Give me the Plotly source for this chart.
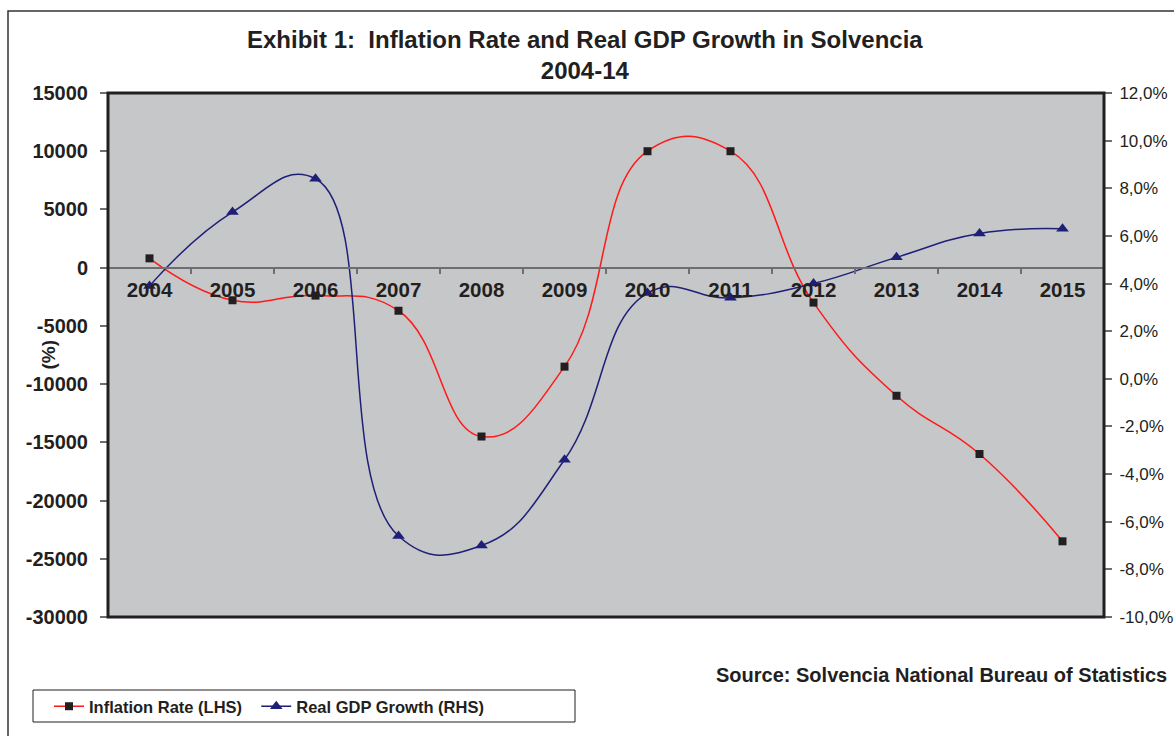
import plotly.graph_objects as go

years = ["2004", "2005", "2006", "2007", "2008", "2009", "2010", "2011", "2012", "2013", "2014", "2015"]
inflation = [800, -2800, -2400, -3700, -14500, -8500, 10000, 10000, -3000, -11000, -16000, -23500]
gdp_growth = [3.9, 7.0, 8.4, -6.6, -7.0, -3.4, 3.6, 3.4, 4.0, 5.1, 6.1, 6.3]

left_ticks = [15000, 10000, 5000, 0, -5000, -10000, -15000, -20000, -25000, -30000]
right_ticks = [12, 10, 8, 6, 4, 2, 0, -2, -4, -6, -8, -10]
right_labels = [f"{v:.1f}".replace(".", ",") + "%" for v in right_ticks]

FONT = "Liberation Sans, Arial, sans-serif"
INK = "#231f20"
L_MIN, L_MAX = -30000, 15000

# pixel geometry of the plotting area (used to place paper-referenced items)
PX_L, PX_R, PX_T, PX_B = 108, 1104, 93, 617


def px(xp):
    return (xp - PX_L) / (PX_R - PX_L)


def py(yp):
    return (PX_B - yp) / (PX_B - PX_T)


NBSP = "\u00a0"

fig = go.Figure()
fig.add_trace(go.Scatter(
    x=years, y=inflation, name="Inflation Rate (LHS)" + NBSP * 2,
    mode="lines+markers", line=dict(color="#ff1a1a", width=1.5, shape="spline", smoothing=1.3),
    marker=dict(symbol="square", size=8, color=INK),
    yaxis="y",
))
fig.add_trace(go.Scatter(
    x=years, y=gdp_growth, name="Real GDP Growth (RHS)",
    mode="lines+markers", line=dict(color="#1f1f78", width=1.5, shape="spline", smoothing=1.3),
    marker=dict(symbol="triangle-up", size=11, color="#1f1f78"),
    yaxis="y2",
))

zero_pos = (0 - L_MIN) / (L_MAX - L_MIN)

fig.update_layout(
    width=1174, height=736,
    margin=dict(l=PX_L, r=1174 - PX_R, t=PX_T, b=736 - PX_B, autoexpand=False),
    paper_bgcolor="white",
    plot_bgcolor="#c6c7c9",
    font=dict(family=FONT, color=INK),
    xaxis=dict(
        type="category", categoryorder="array", categoryarray=years,
        range=[-0.5, 11.5], automargin=False,
        anchor="free", position=zero_pos,
        showline=True, linecolor="#6d6e71", linewidth=1.5,
        ticks="outside", tickson="boundaries", ticklen=6, tickcolor="#6d6e71", tickwidth=1.5,
        ticklabelstandoff=4,
        tickfont=dict(size=20.5, family=FONT, color=INK, weight="bold"),
        showgrid=False, zeroline=False, fixedrange=True,
    ),
    yaxis=dict(
        range=[L_MIN, L_MAX], tickvals=left_ticks, ticktext=[str(v) for v in left_ticks],
        automargin=False,
        ticks="outside", ticklen=7, tickcolor="#6d6e71", tickwidth=1.5,
        ticklabelstandoff=8,
        tickfont=dict(size=20, family=FONT, color=INK, weight="bold"),
        showgrid=False, zeroline=False, showline=False,
    ),
    yaxis2=dict(
        range=[-10, 12], tickvals=right_ticks, ticktext=right_labels,
        overlaying="y", side="right", automargin=False,
        ticks="outside", ticklen=7, tickcolor="#6d6e71", tickwidth=1.5,
        ticklabelstandoff=4,
        tickfont=dict(size=17, family=FONT, color=INK),
        showgrid=False, zeroline=False, showline=False,
    ),
    legend=dict(
        orientation="h", x=px(49), y=py(689),
        xanchor="left", yanchor="top",
        bgcolor="rgba(0,0,0,0)", borderwidth=0,
        font=dict(size=16.5, family=FONT, color=INK, weight="bold"),
        itemwidth=30,
    ),
    showlegend=True,
)

# outer chart border, plot-area frame and legend box
fig.add_shape(type="rect", xref="paper", yref="paper",
              x0=px(8), x1=1.2, y0=-0.5, y1=py(11),
              line=dict(color="#333333", width=1.5), layer="below")
fig.add_shape(type="rect", xref="paper", yref="paper", x0=0, x1=1, y0=0, y1=1,
              line=dict(color=INK, width=3), layer="above")
fig.add_shape(type="rect", xref="paper", yref="paper",
              x0=px(33), x1=px(575), y0=py(722), y1=py(690),
              line=dict(color=INK, width=1), fillcolor="white", layer="above")

fig.add_annotation(text="<b>Exhibit 1:  Inflation Rate and Real GDP Growth in Solvencia<br>2004-14</b>",
                   xref="paper", yref="paper", x=px(585), y=py(55),
                   xanchor="center", yanchor="middle", showarrow=False,
                   font=dict(size=24, family=FONT, color=INK))
fig.add_annotation(text="<b>(%)</b>", textangle=-90, xref="paper", yref="paper",
                   x=px(35), y=py(355), showarrow=False,
                   font=dict(size=19, family=FONT, color=INK))
fig.add_annotation(text="<b>Source: Solvencia National Bureau of Statistics</b>",
                   xref="paper", yref="paper", x=px(1169), y=py(675),
                   xanchor="right", yanchor="middle", showarrow=False,
                   font=dict(size=20, family=FONT, color=INK))

fig.write_html("out.html")
